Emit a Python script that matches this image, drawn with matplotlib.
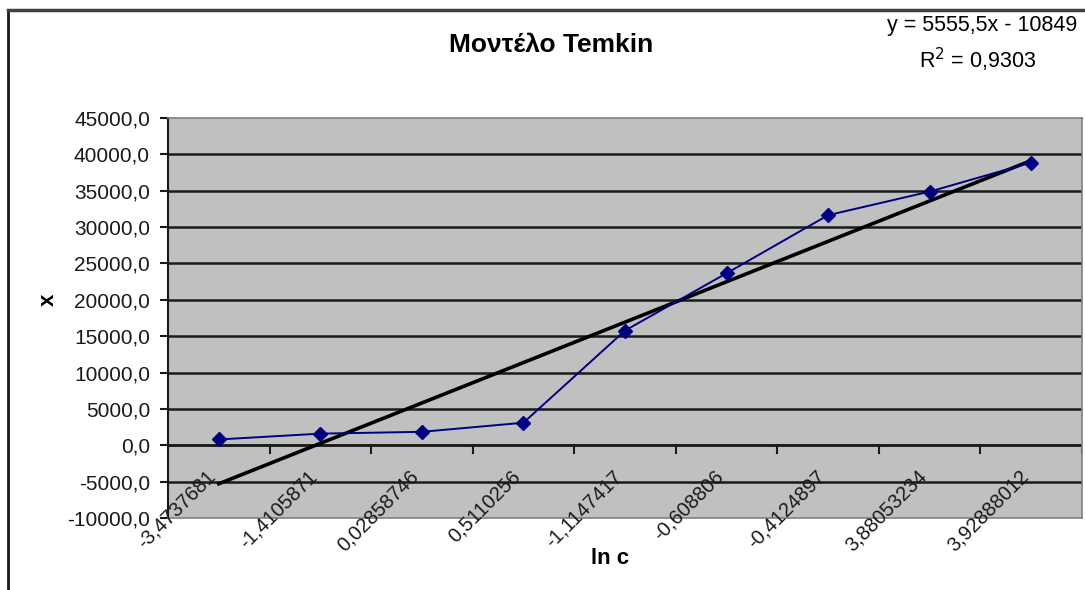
import numpy as np
import matplotlib
matplotlib.use("Agg")
import matplotlib.pyplot as plt
import matplotlib.transforms as mtransforms
from matplotlib.lines import Line2D
from matplotlib.ticker import FuncFormatter, FixedLocator

plt.rcParams['font.family'] = ['Liberation Sans', 'DejaVu Sans']

# data
categories = ["-3,4737681", "-1,4105871", "0,02858746", "0,5110256", "-1,1147417",
              "-0,608806", "-0,4124897", "3,88053234", "3,92888012"]
x_values = [800, 1600, 1850, 3100, 15770, 23650, 31640, 34880, 38880]

# Excel linear trendline (x = category number 1..n)
slope = 5555.5
intercept = -10849
eq_text = "y = 5555,5x - 10849"
r2_text = "R$^2$ = 0,9303"

W, H = 1085, 590
fig = plt.figure(figsize=(W / 100, H / 100), dpi=100)
fig.patch.set_facecolor("white")

# axes placed in pixels of the original
l, r, t, b = 168, 1082, 118, 518
ax = fig.add_axes([l / W, 1 - b / H, (r - l) / W, (b - t) / H])
ax.set_facecolor("#c0c0c0")

idx = np.arange(len(categories))
ax.set_xlim(-0.5, len(categories) - 0.5)
ax.set_ylim(-10000, 45000)

# gridlines
yticks = np.arange(-10000, 45001, 5000)
for yv in yticks[1:-1]:
    ax.axhline(yv, color="#1a1a1a", lw=1.8, zorder=1)

# data series
ax.plot(idx, x_values, color="#000080", lw=1.4, marker="D", markersize=7,
        markerfacecolor="#000080", markeredgecolor="#000080", zorder=4)

# trendline
n = np.array([1, len(categories)])
ax.plot(n - 1, slope * n + intercept, color="black", lw=2.6, zorder=3)

# spines
for s in ["top", "right", "bottom"]:
    ax.spines[s].set_color("#808080")
    ax.spines[s].set_linewidth(1.2)
ax.spines["left"].set_color("#1a1a1a")
ax.spines["left"].set_linewidth(1.5)

# y axis
ax.yaxis.set_major_locator(FixedLocator(yticks))
ax.yaxis.set_major_formatter(FuncFormatter(lambda v, p: f"{v:.1f}".replace(".", ",")))
ax.tick_params(axis="y", direction="out", length=6, width=1.5, pad=7,
               labelsize=15, colors="#1a1a1a")

# category axis sits at y=0, tick marks between categories
ax.set_xticks([])
ax.axhline(0, color="#1a1a1a", lw=1.8, zorder=2)
for xv in np.arange(0.5, len(categories), 1.0):
    ax.add_line(Line2D([xv, xv], [0, -1100], color="#1a1a1a", lw=1.5, zorder=2))

# category labels, rotated 45 degrees
lab_tr = mtransforms.offset_copy(ax.transData, fig, x=-6, y=-28, units="dots")
for i, c in enumerate(categories):
    ax.text(i, 0, c, transform=lab_tr, rotation=45, rotation_mode="anchor",
            ha="right", va="center", fontsize=14.5, color="#1a1a1a", clip_on=False)

# titles
fig.text(551 / W, 1 - 45 / H, "Μοντέλο Temkin", ha="center", va="center",
         fontsize=19, fontweight="bold")
fig.text(48 / W, 1 - 300 / H, "x", ha="center", va="center", rotation=90,
         fontsize=16, fontweight="bold")
fig.text(610 / W, 1 - 558 / H, "ln c", ha="center", va="center",
         fontsize=16, fontweight="bold")

# trendline equation
fig.text(1077 / W, 1 - 26 / H, eq_text, ha="right", va="center", fontsize=15.5)
fig.text(978 / W, 1 - 60 / H, r2_text, ha="center", va="center", fontsize=15.5)

# chart area border
fig.add_artist(Line2D([8 / W, 8 / W], [0, 1 - 10 / H], color="#1a1a1a", lw=2,
                      transform=fig.transFigure))
fig.add_artist(Line2D([8 / W, 1], [1 - 10 / H, 1 - 10 / H], color="#404040", lw=2.5,
                      transform=fig.transFigure))

fig.savefig("out.png", dpi=100)
